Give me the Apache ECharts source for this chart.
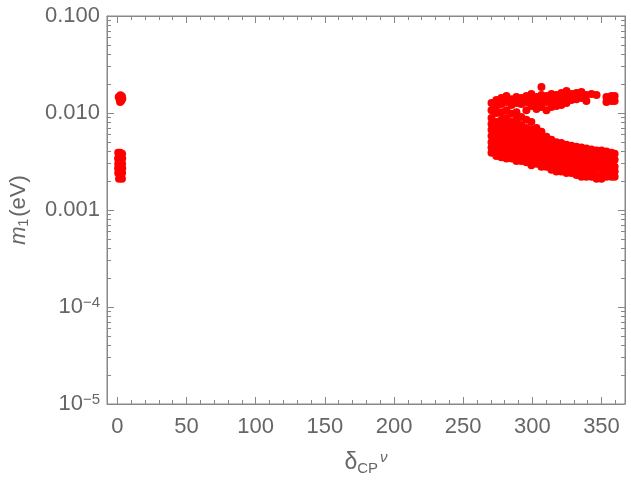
<!DOCTYPE html>
<html>
<head>
<meta charset="utf-8">
<script src="https://cdn.jsdelivr.net/npm/echarts@6/dist/echarts.min.js"></script>
<style>
  html, body { margin: 0; padding: 0; background: #fff; }
  #chart { width: 631px; height: 481px; }
</style>
</head>
<body>
<div id="chart"></div>
<script>
// tick positions
const xMajorTicks = [0, 50, 100, 150, 200, 250, 300, 350];

// points near delta = 0
const leftPoints = [
  [1.0, 0.0146], [2.2, 0.0152], [3.3, 0.0148], [1.6, 0.0138], [2.8, 0.0134], [3.6, 0.0140], [2.0, 0.0130],
  [0.6, 0.0039], [2.0, 0.0039], [3.4, 0.0038], [0.5, 0.0034], [2.1, 0.0035], [3.5, 0.0034],
  [0.6, 0.0030], [2.0, 0.0031], [3.4, 0.0030], [0.5, 0.0027], [2.0, 0.0027], [3.5, 0.0027],
  [0.6, 0.0024], [2.1, 0.0024], [3.4, 0.0024], [1.2, 0.0021], [2.6, 0.0022], [3.3, 0.0021]
];

// points for delta in 270..360, one column per x
const rightX = [270.5, 274.0, 277.6, 281.3, 285.0, 288.5, 292.0, 295.7, 299.3, 303.0, 306.6, 310.2, 313.8,
  317.4, 321.0, 324.7, 328.3, 331.9, 335.5, 339.1, 342.8, 346.4, 350.0, 353.6, 357.2, 359.5];
const rightY = [
  [0.0127, 0.0107, 0.0089, 0.0077, 0.0067, 0.0058, 0.0050, 0.0044, 0.0039],
  [0.0136, 0.0118, 0.0100, 0.0081, 0.0070, 0.0061, 0.0053, 0.0046, 0.0040, 0.0036],
  [0.0143, 0.0124, 0.0102, 0.0085, 0.0072, 0.0062, 0.0054, 0.0047, 0.0041, 0.0035],
  [0.0150, 0.0130, 0.0107, 0.0089, 0.0075, 0.0065, 0.0057, 0.0049, 0.0043, 0.0037, 0.0034],
  [0.0139, 0.0121, 0.0098, 0.0081, 0.0070, 0.0061, 0.0053, 0.0046, 0.0040, 0.0034],
  [0.0146, 0.0127, 0.0102, 0.0085, 0.0073, 0.0064, 0.0055, 0.0048, 0.0042, 0.0036, 0.0032],
  [0.0143, 0.0124, 0.0091, 0.0075, 0.0065, 0.0057, 0.0049, 0.0043, 0.0037, 0.0032],
  [0.0150, 0.0130, 0.0107, 0.0085, 0.0070, 0.0061, 0.0053, 0.0046, 0.0040, 0.0034, 0.0031],
  [0.0157, 0.0136, 0.0118, 0.0081, 0.0067, 0.0058, 0.0050, 0.0044, 0.0038, 0.0033, 0.0029],
  [0.0146, 0.0127, 0.0110, 0.0070, 0.0061, 0.0053, 0.0046, 0.0040, 0.0034, 0.0030],
  [0.0185, 0.0153, 0.0133, 0.0115, 0.0064, 0.0055, 0.0048, 0.0042, 0.0036, 0.0031, 0.0028],
  [0.0150, 0.0130, 0.0107, 0.0057, 0.0049, 0.0043, 0.0037, 0.0032, 0.0028],
  [0.0157, 0.0136, 0.0115, 0.0053, 0.0046, 0.0040, 0.0034, 0.0030, 0.0026],
  [0.0153, 0.0133, 0.0118, 0.0050, 0.0044, 0.0038, 0.0033, 0.0028, 0.0025],
  [0.0161, 0.0139, 0.0121, 0.0049, 0.0043, 0.0037, 0.0032, 0.0028, 0.0025],
  [0.0169, 0.0146, 0.0127, 0.0047, 0.0041, 0.0035, 0.0031, 0.0027, 0.0024],
  [0.0157, 0.0136, 0.0046, 0.0040, 0.0034, 0.0030, 0.0026, 0.0024],
  [0.0161, 0.0139, 0.0045, 0.0039, 0.0034, 0.0029, 0.0025, 0.0023],
  [0.0165, 0.0143, 0.0044, 0.0038, 0.0033, 0.0028, 0.0025, 0.0022],
  [0.0153, 0.0133, 0.0043, 0.0037, 0.0032, 0.0028, 0.0024, 0.0022],
  [0.0157, 0.0042, 0.0036, 0.0031, 0.0027, 0.0024, 0.0022],
  [0.0153, 0.0041, 0.0035, 0.0031, 0.0027, 0.0023, 0.0021],
  [0.0041, 0.0035, 0.0031, 0.0027, 0.0023, 0.0021],
  [0.0146, 0.0130, 0.0040, 0.0034, 0.0030, 0.0026, 0.0022],
  [0.0150, 0.0133, 0.0039, 0.0034, 0.0029, 0.0025, 0.0022],
  [0.0150, 0.0133, 0.0038, 0.0033, 0.0028, 0.0025, 0.0022]
];

const frameColor = '#888';
const textColor = '#666';
const font = 'Liberation Sans';

const points = leftPoints.slice();
rightX.forEach((x, i) => {
  rightY[i].forEach(y => points.push([x, y]));
});

// minor ticks: every 10 on x, 2..9 per decade on y (log10 units on the helper axis)
const xMinorTicks = [];
for (let v = 0; v <= 360; v += 10) if (v % 50 !== 0) xMinorTicks.push(v);
const yMinorTicks = [];
for (let d = -5; d < -1; d++) for (let k = 2; k <= 9; k++) yMinorTicks.push(d + Math.log10(k));

const xRange = { min: -7.5, max: 367 };

function xAxisFor(position, ticks, len, withLabels, showLine) {
  return {
    type: 'value', position, offset: 0, min: xRange.min, max: xRange.max,
    axisLine: { show: showLine, onZero: false, lineStyle: { color: frameColor, width: 1 } },
    axisTick: { show: true, inside: true, length: len, customValues: ticks, lineStyle: { color: frameColor } },
    axisLabel: withLabels
      ? { customValues: ticks, fontSize: 22, fontFamily: font, color: textColor, margin: 12 }
      : { show: false },
    splitLine: { show: false }
  };
}

function yMinorAxis(position) {
  return {
    type: 'value', position, offset: 0, min: -5, max: -1,
    axisLine: { show: false, onZero: false },
    axisTick: { show: true, inside: true, length: 4, customValues: yMinorTicks, lineStyle: { color: frameColor } },
    axisLabel: { show: false },
    splitLine: { show: false }
  };
}

const chart = echarts.init(document.getElementById('chart'));
chart.setOption({
  animation: false,
  grid: {
    left: 107, right: 6, top: 16, bottom: 77, outerBoundsMode: 'none',
    show: true, borderColor: frameColor, borderWidth: 1, backgroundColor: 'transparent'
  },
  xAxis: [
    Object.assign(xAxisFor('bottom', xMajorTicks, 7, true, true), {
      name: '{d|δ}{sub|CP}{sup|ν}',
      nameLocation: 'middle',
      nameGap: 46,
      nameTextStyle: {
        color: textColor, fontFamily: font,
        rich: {
          d: { fontSize: 23, fontFamily: font, color: textColor, lineHeight: 26, verticalAlign: 'middle' },
          sub: { fontSize: 15, fontFamily: font, color: textColor, lineHeight: 14, verticalAlign: 'bottom' },
          sup: { fontSize: 15, fontFamily: font, color: textColor, fontStyle: 'italic', lineHeight: 14, verticalAlign: 'top', padding: [0, 0, 0, 2] }
        }
      }
    }),
    xAxisFor('bottom', xMinorTicks, 4, false, false),
    xAxisFor('top', xMajorTicks, 7, false, true),
    xAxisFor('top', xMinorTicks, 4, false, false)
  ],
  yAxis: [
    {
      type: 'log', logBase: 10, min: 0.00001, max: 0.1, position: 'left', offset: 0,
      axisLine: { show: true, onZero: false, lineStyle: { color: frameColor, width: 1 } },
      axisTick: { show: true, inside: true, length: 7, lineStyle: { color: frameColor } },
      axisLabel: {
        fontSize: 22, fontFamily: font, color: textColor, margin: 7,
        formatter: v => {
          const e = Math.round(Math.log10(v));
          if (e >= -3) return Math.pow(10, e).toFixed(3);
          return '{b|10}{s|−' + (-e) + '}';
        },
        rich: {
          b: { fontSize: 22, fontFamily: font, color: textColor, lineHeight: 24 },
          s: { fontSize: 15, fontFamily: font, color: textColor, lineHeight: 16, verticalAlign: 'top' }
        }
      },
      splitLine: { show: false },
      name: '{i|m}{sub|1}{n|(eV)}',
      nameLocation: 'middle',
      nameRotate: 90,
      nameGap: 76,
      nameTextStyle: {
        color: textColor,
        rich: {
          i: { fontSize: 22, fontFamily: font, color: textColor, fontStyle: 'italic', lineHeight: 24 },
          sub: { fontSize: 14, fontFamily: font, color: textColor, lineHeight: 14, verticalAlign: 'bottom' },
          n: { fontSize: 22, fontFamily: font, color: textColor, lineHeight: 24, padding: [0, 0, 0, 2] }
        }
      }
    },
    yMinorAxis('left'),
    {
      type: 'log', logBase: 10, min: 0.00001, max: 0.1, position: 'right', offset: 0,
      axisLine: { show: true, onZero: false, lineStyle: { color: frameColor, width: 1 } },
      axisTick: { show: true, inside: true, length: 7, lineStyle: { color: frameColor } },
      axisLabel: { show: false },
      splitLine: { show: false }
    },
    yMinorAxis('right')
  ],
  series: [
    {
      type: 'scatter',
      xAxisIndex: 0,
      yAxisIndex: 0,
      data: points,
      symbolSize: 8,
      itemStyle: { color: '#ff0000', opacity: 1 }
    }
  ]
});
</script>
</body>
</html>
